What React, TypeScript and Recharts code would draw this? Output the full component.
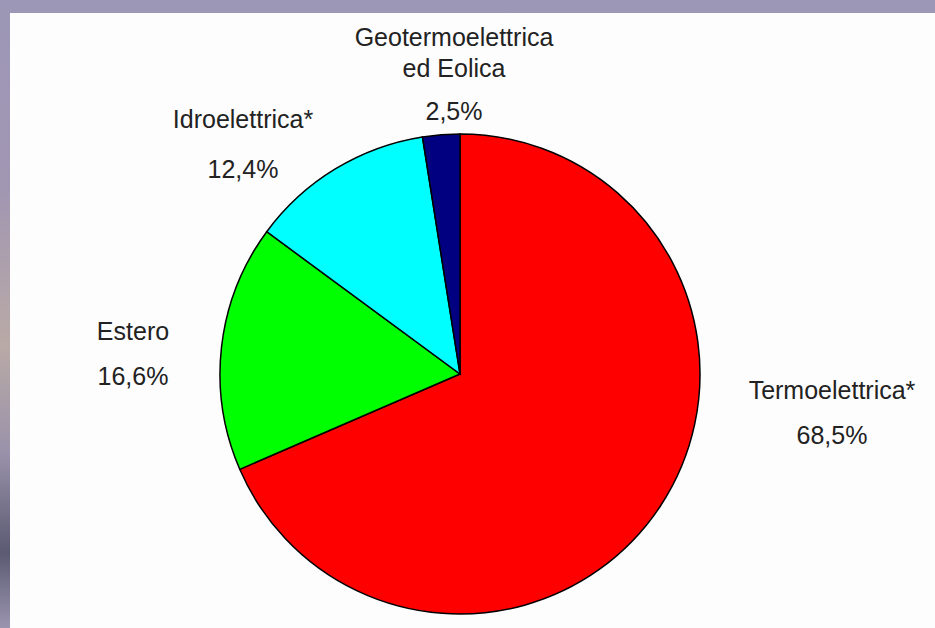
import { Cell, Pie, PieChart } from "recharts";

const sources = ["Termoelettrica*", "Estero", "Idroelettrica*", "Geotermoelettrica\ned Eolica"];
const shares = [68.5, 16.6, 12.4, 2.5];
const colors = ["#ff0000", "#00ff00", "#00ffff", "#000080"];

// label placement relative to the pie centre: x, first baseline, gap before the percentage
const labelSpots = [
  { dx: 372, dy: 25, gap: 45 },
  { dx: -327, dy: -34, gap: 45 },
  { dx: -217, dy: -246, gap: 50 },
  { dx: -6, dy: -328, gap: 43 },
];

const data = sources.map((name, i) => ({ name, value: shares[i] }));

const fmt = (v: number) => v.toFixed(1).replace(".", ",") + "%";

function SliceLabel(props: any) {
  const { cx, cy, index } = props;
  const spot = labelSpots[index];
  const lines = sources[index].split("\n");
  const x = cx + spot.dx;
  const y0 = cy + spot.dy;
  const style = { fontFamily: "'Liberation Sans', Arial, sans-serif", fontSize: 25, fill: "#222" };
  return (
    <g>
      {lines.map((ln, k) => (
        <text key={k} x={x} y={y0 + k * 31} textAnchor="middle" style={style}>
          {ln}
        </text>
      ))}
      <text x={x} y={y0 + (lines.length - 1) * 31 + spot.gap} textAnchor="middle" style={style}>
        {fmt(shares[index])}
      </text>
    </g>
  );
}

export default function App() {
  return (
    <div
      style={{
        position: "absolute",
        left: 0,
        top: 0,
        width: 935,
        height: 628,
        overflow: "hidden",
        background: "linear-gradient(180deg, #9c97b6 0%, #a196b2 30%, #b9aaa6 55%, #9a92aa 72%, #5a5a72 88%, #9c95b0 100%)",
      }}
    >
      <div style={{ position: "absolute", left: 10, top: 13, right: 0, bottom: 0, background: "#fdfdfd" }} />
      <div style={{ position: "absolute", left: 0, top: 0 }}>
        <PieChart width={935} height={628} margin={{ top: 0, right: 0, bottom: 0, left: 0 }}>
          <Pie
            data={data}
            dataKey="value"
            nameKey="name"
            cx={460}
            cy={374}
            outerRadius={240}
            startAngle={90}
            endAngle={-270}
            stroke="#000"
            strokeWidth={1.5}
            label={SliceLabel}
            labelLine={false}
            isAnimationActive={false}
          >
            {data.map((d, i) => (
              <Cell key={d.name} fill={colors[i]} />
            ))}
          </Pie>
        </PieChart>
      </div>
    </div>
  );
}
